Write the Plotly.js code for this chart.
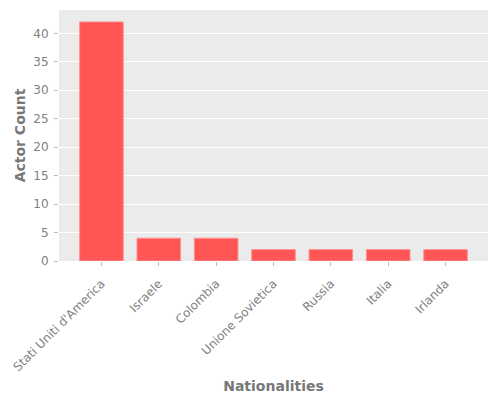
<!DOCTYPE html>
<html>
<head>
<meta charset="utf-8">
<script src="https://cdn.plot.ly/plotly-3.0.1.min.js"></script>
<style>
  body { margin: 0; background: white; }
  #chart { width: 500px; height: 400px; }
</style>
</head>
<body>
<div id="chart"></div>
<script>
// actor count by nationality
const nationalities = ["Stati Uniti d'America", "Israele", "Colombia", "Unione Sovietica", "Russia", "Italia", "Irlanda"];
const actorCounts = [42, 4, 4, 2, 2, 2, 2];
const yTicks = [0, 5, 10, 15, 20, 25, 30, 35, 40];

const data = [{
    x: nationalities,
    y: actorCounts,
    type: 'bar',
    marker: { color: '#ff5555', line: { color: '#ff9090', width: 1 } },
    width: 0.76,
    hoverinfo: 'none'
}];

const layout = {
    width: 500,
    height: 400,
    margin: { l: 59, r: 12, t: 10, b: 139 },
    paper_bgcolor: 'white',
    plot_bgcolor: '#ebebeb',
    font: { family: 'DejaVu Sans', color: '#808080', size: 12 },
    showlegend: false,
    xaxis: {
        range: [-0.74, 6.74],
        tickangle: -45,
        ticks: 'outside',
        ticklen: 4,
        tickcolor: '#bbbbbb',
        ticklabelstandoff: 6,
        showgrid: false,
        zeroline: false,
        tickfont: { size: 12, color: '#808080' },
        title: { text: '<b>Nationalities</b>', font: { size: 14, color: '#777777' }, standoff: 8 }
    },
    yaxis: {
        range: [0, 44.1],
        tickvals: yTicks,
        ticks: 'outside',
        ticklen: 4,
        tickcolor: '#bbbbbb',
        ticklabelstandoff: 3,
        showgrid: true,
        gridcolor: 'white',
        gridwidth: 1,
        zeroline: false,
        tickfont: { size: 12, color: '#808080' },
        title: { text: '<b>Actor Count</b>', font: { size: 14, color: '#777777' }, standoff: 4 }
    }
};

Plotly.newPlot('chart', data, layout, { displayModeBar: false, staticPlot: true });
</script>
</body>
</html>
